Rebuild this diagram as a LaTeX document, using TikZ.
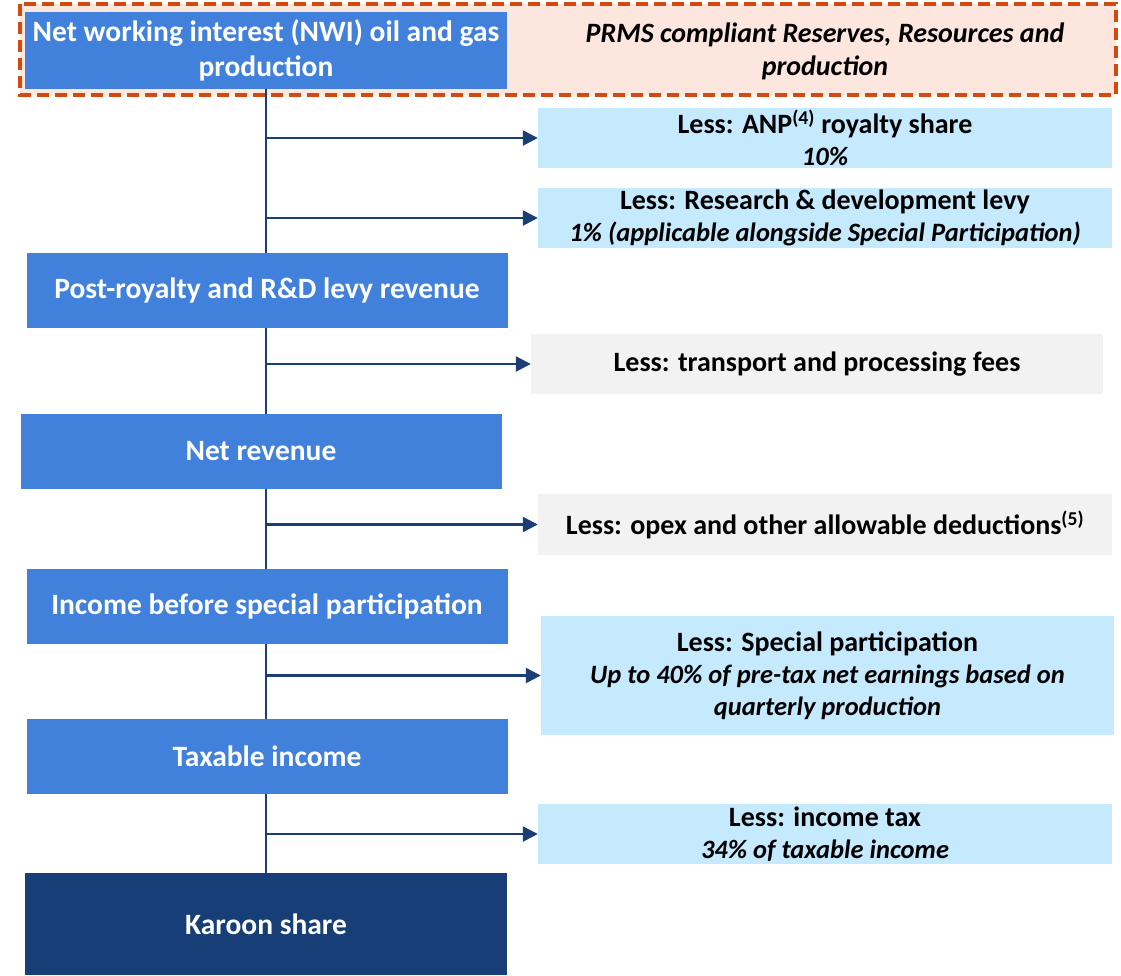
\documentclass[tikz,border=0pt]{standalone}
\usepackage{fontspec}
\setmainfont{Carlito}
\usetikzlibrary{arrows.meta,backgrounds}
\definecolor{kBlue}{RGB}{66,129,219}
\definecolor{kNavy}{RGB}{23,62,118}
\definecolor{kSky}{RGB}{197,233,253}
\definecolor{kGrey}{RGB}{242,242,242}
\definecolor{kPink}{RGB}{253,230,222}
\definecolor{kRust}{RGB}{208,74,18}
\definecolor{kLine}{RGB}{28,62,118}

\newcommand{\sub}[1]{{\fontsize{26.5}{32}\selectfont\itshape #1}}

\begin{document}
\begin{tikzpicture}[
  x=1pt, y=-1pt, font=\fontsize{28}{32}\selectfont\bfseries,
  stage/.style={fill=#1, text=white, inner sep=0pt, align=center,
                minimum width=481pt, minimum height=75pt,
                font=\fontsize{29.5}{35}\selectfont\bfseries},
  less/.style={fill=#1, text=black, inner sep=0pt, align=center,
               minimum width=574pt, minimum height=60pt,
               font=\fontsize{28}{32}\selectfont\bfseries},
  frame/.style={draw=kRust, fill=kPink, line width=3.5pt,
                dash pattern=on 12pt off 6pt},
  flow/.style={-{Triangle[length=15pt,width=15pt]}, line width=2.5pt, draw=kLine},
]
\useasboundingbox (0,0) rectangle (1121,975);

% ---------------- PRMS frame ----------------
\begin{scope}[on background layer]
  \draw[frame] (20,4) rectangle (1116,95);
\end{scope}
\node[font=\fontsize{28}{33}\selectfont\bfseries\itshape, align=center] (prms) at (825,51)
  {PRMS compliant Reserves, Resources and\\production};

% ---------------- main column ----------------
\node[stage=kBlue, minimum width=482pt, minimum height=77pt] (nwi) at (266,50.5)
  {Net working interest (NWI) oil and gas\\production};
\node[stage=kBlue] (post)   at (267,290) {Post-royalty and R\&D levy revenue};
\node[stage=kBlue] (net)    at (261,451) {Net revenue};
\node[stage=kBlue] (ibsp)   at (267,606) {Income before special participation};
\node[stage=kBlue] (tax)    at (267,756) {Taxable income};
\node[stage=kNavy, minimum width=482pt, minimum height=102pt] (karoon) at (266,924)
  {Karoon share};

% ---------------- deductions ----------------
\node[less=kSky] (anp) at (825,138)
  {Less: ANP\textsuperscript{(4)} royalty share\\\sub{10\%}};
\node[less=kSky] (rnd) at (825,218)
  {Less: Research \& development levy\\\sub{1\% (applicable alongside Special Participation)}};
\node[less=kGrey, minimum width=572pt] (fees) at (817,364)
  {Less: transport and processing fees};
\node[less=kGrey, minimum height=61pt] (opex) at (825,524.5)
  {Less: opex and other allowable deductions\textsuperscript{(5)}};
\node[less=kSky, minimum width=573pt, minimum height=119pt] (sp) at (827.5,675.5)
  {Less: Special participation\\\sub{Up to 40\% of pre-tax net earnings based on}\\\sub{quarterly production}};
\node[less=kSky] (itax) at (825,834)
  {Less: income tax\\\sub{34\% of taxable income}};

% ---------------- connectors ----------------
\begin{scope}[on background layer]
  \draw[kLine, line width=2.5pt] (nwi.south) -- (karoon.north);
\end{scope}
\foreach \d in {anp, rnd, fees, opex, sp, itax}
  \draw[flow] (nwi.south |- \d.west) -- (\d.west);
\end{tikzpicture}
\end{document}
